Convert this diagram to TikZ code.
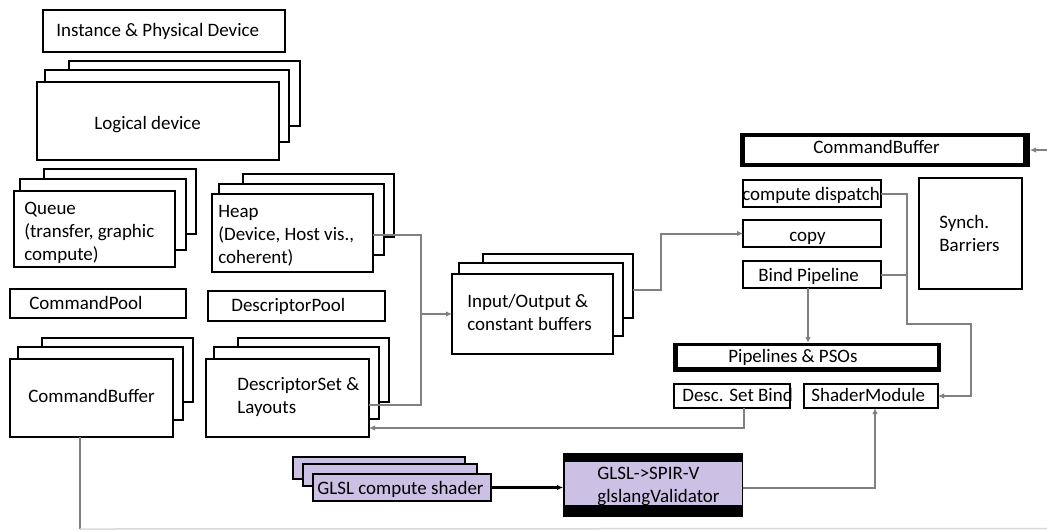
\documentclass[tikz,border=0pt]{standalone}
\usepackage{fontspec}
\setmainfont{Carlito}
\usetikzlibrary{fit,arrows.meta}
\definecolor{lav}{RGB}{204,192,228}
\definecolor{cgray}{RGB}{128,128,128}
\newcommand\mybox[6][]{\node[bx,#1,fit={(#3,#4) (#5,#6)}] (#2) {};}
\tikzset{
  bx/.style={draw=black, line width=0.058cm, fill=white, inner sep=0pt, outer sep=0pt},
  solid/.style={draw=none, fill=black, inner sep=0pt, outer sep=0pt},
  txt/.style={anchor=base west, inner sep=0pt, align=left, font=\fontsize{10.8}{13}\selectfont},
  conn/.style={draw=cgray, line width=0.04cm},
  carrow/.style={conn, -{Latex[length=0.12cm,width=0.11cm]}},
  barrow/.style={draw=black, line width=0.045cm, -{Latex[length=0.12cm,width=0.11cm]}},
}
\begin{document}
\begin{tikzpicture}[x=0.02cm,y=-0.02cm]
\useasboundingbox (0,0) rectangle (1047,529);
% left column
\mybox{inst}{43}{10}{285}{52}
\mybox{ldB}{69}{61}{300}{126}
\mybox{ldM}{45}{70}{289}{142}
\mybox{ldF}{37}{82}{279}{160}
\mybox{qB}{44}{169}{196}{234}
\mybox{qM}{20}{179}{186}{250}
\mybox{qF}{14}{191}{175}{267}
\mybox{hB}{243}{174}{394}{237}
\mybox{hM}{219}{184}{384}{255}
\mybox{hF}{212}{194}{373}{272}
\mybox{cpool}{10}{289}{186}{318}
\mybox{dpool}{208}{291}{385}{321}
\mybox{cbB}{42}{338}{193}{402}
\mybox{cbM}{18}{347}{183}{420}
\mybox{cbF}{10}{359}{173}{437}
\mybox{dsB}{238}{338}{389}{402}
\mybox{dsM}{214}{347}{379}{419}
\mybox{dsF}{206}{359}{369}{437}
% middle
\mybox{ioB}{483}{254}{633}{318}
\mybox{ioM}{459}{263}{623}{336}
\mybox{ioF}{452}{274}{613}{354}
% right
\node[solid, fit={(740,133) (1030,167)}] (cbR) {};
\node[fill=white, inner sep=0pt, fit={(745,137) (1023,163)}] (cbRi) {};
\mybox{cd}{743}{180}{881}{207}
\mybox{copy}{743}{220}{881}{247}
\mybox{bp}{743}{261}{881}{288}
\mybox{sync}{919}{178}{1022}{289}
\node[solid, fit={(673,343) (941,372)}] (pso) {};
\node[fill=white, inner sep=0pt, fit={(678,346) (937,367)}] (psoi) {};
\mybox{dsb}{674}{384}{790}{408}
\mybox{sm}{804}{384}{938}{408}
% bottom
\mybox[fill=lav]{glB}{293}{457}{465}{479}
\mybox[fill=lav]{glM}{303}{464}{477}{486}
\mybox[fill=lav]{glF}{313}{474}{491}{501}
\node[solid, fit={(563,453) (743,517)}] (val) {};
\node[fill=lav, inner sep=0pt, fit={(565,462) (742,505)}] (vali) {};
% texts (multi-line nodes: anchor is the baseline of the last line)
\node[txt] (t-inst) at (56,36) {Instance \& Physical Device};
\node[txt] (t-ld) at (94,129.5) {Logical device};
\node[txt] (t-q) at (24,260) {Queue\\(transfer, graphic\\compute)};
\node[txt] (t-h) at (218,263) {Heap\\(Device, Host vis.,\\coherent)};
\node[txt] (t-cpool) at (29,309) {CommandPool};
\node[txt] (t-dpool) at (231,311) {DescriptorPool};
\node[txt] (t-cb) at (28,402) {CommandBuffer};
\node[txt] (t-ds) at (237,413) {DescriptorSet \&\\Layouts};
\node[txt] (t-io) at (467,330) {Input/Output \&\\constant buffers};
\node[txt] (t-cbR) at (813,153) {CommandBuffer};
\node[txt] (t-cd) at (742,200) {compute dispatch};
\node[txt] (t-copy) at (789,241) {copy};
\node[txt] (t-bp) at (758,281) {Bind Pipeline};
\node[txt] (t-sync) at (939,251) {Synch.\\Barriers};
\node[txt] (t-pso) at (728,362) {Pipelines \& PSOs};
\node[txt] (t-dsb) at (682,401) {Desc. Set Bind};
\node[txt] (t-sm) at (811,401) {ShaderModule};
\node[txt] (t-gl) at (317,494) {GLSL compute shader};
\begin{scope}
\clip (565,462) rectangle (742,505);
\node[txt] (t-val) at (597,502) {GLSL->SPIR-V\\glslangValidator};
\end{scope}
% junction coordinates
\coordinate (j1) at (421,235);
\coordinate (j2) at (421,405);
\coordinate (j3) at (421,314);
\coordinate (k1) at (661,290);
\coordinate (m1) at (907,324);
\coordinate (m2) at (971,324);
\coordinate (n1) at (744,428);
\coordinate (p1) at (875,488);
\coordinate (q1) at (80,529);
\coordinate (q2) at (1047,528.5);
\coordinate (r1) at (1047,150);
\coordinate (s1) at (808,0);
% connectors
\draw[conn] (hF.east |- j1) -- (j1) -- (j2) -- (dsF.east |- j2);
\draw[carrow] (j3) -- (ioF.west |- j3);
\draw[carrow] (ioB.east |- k1) -- (k1) |- (copy.west);
\draw[carrow] (cd.east) -| (m1) -- (m2) |- (sm.east);
\draw[conn] (bp.east) -- (bp.east -| m1);
\draw[carrow] (bp.south -| s1) -- (pso.north -| s1);
\draw[carrow] (dsb.south -| n1) -- (n1) -- (dsF.east |- n1);
\draw[carrow] (val.east |- p1) -- (p1) -- (p1 |- sm.south);
\draw[barrow] (glF.east) -- (val.west |- glF.east);
\draw[conn] (cbF.south -| q1) -- (q1);
\draw[draw=cgray!30, line width=0.03cm] (q1) -- (q2);
\draw[carrow] (r1) -- (cbR.east |- r1);
\end{tikzpicture}
\end{document}
